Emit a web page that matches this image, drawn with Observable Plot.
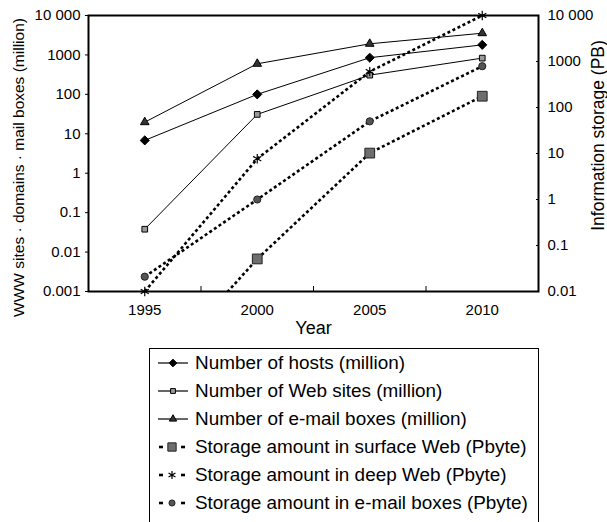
<!DOCTYPE html>
<html>
<head>
<meta charset="utf-8">
<script src="https://cdn.jsdelivr.net/npm/d3@7"></script>
<script src="https://cdn.jsdelivr.net/npm/@observablehq/plot@0.6"></script>
<style>
  body { margin: 0; background: #fff; font-family: "Liberation Sans", Arial, sans-serif; }
  #wrap { position: relative; width: 607px; height: 522px; overflow: hidden; }
  #legend { position: absolute; left: 149px; top: 348px; width: 390px; height: 200px;
            box-sizing: border-box; border: 1px solid #000; background: #fff; padding-left: 8px; }
  .row { display: flex; align-items: center; height: 28px; font-size: 18.9px; color: #000; white-space: nowrap; }
  .row svg { flex: none; margin-right: 7px; }
</style>
</head>
<body>
<div id="wrap">
  <div id="chart"></div>
  <div id="legend"></div>
</div>
<script>
// ---- data ----
const years = [1995, 2000, 2005, 2010];
const hosts = [6.8, 100, 850, 1800];             // million (left axis)
const webSites = [0.038, 31, 307, 830];          // million (left axis)
const mailBoxes = [19.7, 596, 1915, 3556];       // million (left axis)
const storageSurface = [0.0001, 0.051, 10.2, 176]; // PB (right axis)
const storageDeep = [0.01, 7.7, 604, 10000];       // PB (right axis)
const storageMail = [0.021, 1.0, 50, 790];         // PB (right axis)

const seriesNames = [
  "Number of hosts (million)",
  "Number of Web sites (million)",
  "Number of e-mail boxes (million)",
  "Storage amount in surface Web (Pbyte)",
  "Storage amount in deep Web (Pbyte)",
  "Storage amount in e-mail boxes (Pbyte)"
];
const seriesValues = [hosts, webSites, mailBoxes, storageSurface, storageDeep, storageMail];
const seriesAxis = ["left", "left", "left", "right", "right", "right"];

const leftTicks = [0.001, 0.01, 0.1, 1, 10, 100, 1000, 10000];
const leftTickLabels = ["0.001", "0.01", "0.1", "1", "10", "100", "1000", "10 000"];
const rightTicks = [0.01, 0.1, 1, 10, 100, 1000, 10000];
const rightTickLabels = ["0.01", "0.1", "1", "10", "100", "1000", "10 000"];
const xTicks = [1995, 2000, 2005, 2010];
const xMinorTicks = [1997.5, 2002.5, 2007.5];

const xTitle = "Year";
const yLeftTitle = "WWW sites \u00b7 domains \u00b7 mail boxes (million)";
const yRightTitle = "Information storage (PB)";

// ---- styles ----
const styles = [
  {dashed: false, symbol: "diamond2", r: 4.1, fill: "#000", stroke: "#000"},
  {dashed: false, symbol: "square", r: 3.2, fill: "#9a9a9a", stroke: "#000"},
  {dashed: false, symbol: "triangle", r: 3.2, fill: "#333", stroke: "#000"},
  {dashed: true, symbol: "square", r: 5.5, fill: "#6e6e6e", stroke: "#222"},
  {dashed: true, symbol: "asterisk", r: 4.4, fill: "none", stroke: "#000"},
  {dashed: true, symbol: "circle", r: 3.6, fill: "#555", stroke: "#222"}
];

// right axis (0.01..10000 PB, 6 decades) mapped onto left axis (0.001..10000, 7 decades)
const toLeft = v => Math.pow(10, -3 + (Math.log10(v) + 2) * 7 / 6);
const rightTickData = rightTicks.map((t, i) => ({pos: toLeft(t), label: rightTickLabels[i]}));
const leftLabel = new Map(leftTicks.map((t, i) => [t, leftTickLabels[i]]));

const marks = [];
seriesNames.forEach((name, k) => {
  const st = styles[k];
  const data = years.map((yr, i) => ({
    year: yr,
    v: seriesAxis[k] === "right" ? toLeft(seriesValues[k][i]) : seriesValues[k][i]
  }));
  marks.push(Plot.line(data, {
    x: "year", y: "v", stroke: "#000",
    strokeWidth: st.dashed ? 2.6 : 1,
    strokeDasharray: st.dashed ? "3,2.6" : null,
    strokeLinecap: "butt",
    clip: true
  }));
  marks.push(Plot.dot(data.filter(d => d.v >= 0.001 * 0.999), {
    x: "year", y: "v", symbol: st.symbol, r: st.r,
    fill: st.fill, stroke: st.stroke, strokeWidth: st.symbol === "asterisk" ? 1.2 : 1
  }));
});

const blank = () => "";

const chart = Plot.plot({
  width: 607,
  height: 340,
  marginLeft: 88,
  marginRight: 69,
  marginTop: 15,
  marginBottom: 49,
  style: {fontFamily: "'Liberation Sans', Arial, sans-serif", fontSize: "15px", color: "#000", background: "#fff"},
  x: {domain: [1992.5, 2012.5]},
  y: {type: "log", domain: [0.001, 10000]},
  marks: [
    ...marks,
    Plot.axisY(leftTicks, {anchor: "left", tickSize: 3, tickPadding: 5, fontSize: 15,
      tickFormat: d => leftLabel.get(d), label: null}),
    Plot.axisY(rightTickData.map(d => d.pos), {anchor: "right", tickSize: -3, tickFormat: blank, label: null}),
    Plot.text(rightTickData, {y: "pos", text: "label", frameAnchor: "right", dx: 9,
      textAnchor: "start", lineAnchor: "middle", fontSize: 15}),
    Plot.axisX(xTicks, {anchor: "bottom", tickSize: 0, tickPadding: 13, fontSize: 15,
      tickFormat: d => String(d), label: null}),
    Plot.axisX(xMinorTicks, {anchor: "bottom", tickSize: -5, tickFormat: blank, label: null}),
    Plot.frame({stroke: "#000", strokeWidth: 2}),
    Plot.text([xTitle], {text: d => d, frameAnchor: "bottom", dy: 37, fontSize: 18, lineAnchor: "middle"}),
    Plot.text([yLeftTitle], {text: d => d, frameAnchor: "left", rotate: -90, dx: -69, dy: 14,
      fontSize: 15.5, lineAnchor: "middle", textAnchor: "middle"}),
    Plot.text([yRightTitle], {text: d => d, frameAnchor: "right", rotate: -90, dx: 60, dy: -18,
      fontSize: 17.5, lineAnchor: "middle", textAnchor: "middle"})
  ]
});
document.getElementById("chart").append(chart);

// ---- legend ----
const symbolTypes = {diamond2: d3.symbolDiamond2, square: d3.symbolSquare, triangle: d3.symbolTriangle,
                     asterisk: d3.symbolAsterisk, circle: d3.symbolCircle};
const legend = d3.select("#legend");
seriesNames.forEach((name, k) => {
  const st = styles[k];
  const row = legend.append("div").attr("class", "row");
  const svg = row.append("svg").attr("width", 30).attr("height", 20);
  if (st.dashed) {
    svg.append("line").attr("x1", 1).attr("x2", 5).attr("y1", 10).attr("y2", 10)
      .attr("stroke", "#000").attr("stroke-width", 2.6);
    svg.append("line").attr("x1", 23).attr("x2", 27).attr("y1", 10).attr("y2", 10)
      .attr("stroke", "#000").attr("stroke-width", 2.6);
  } else {
    svg.append("line").attr("x1", 0).attr("x2", 30).attr("y1", 10).attr("y2", 10)
      .attr("stroke", "#000").attr("stroke-width", 1.2);
  }
  const r = st.r * 0.85;
  svg.append("path")
    .attr("transform", st.dashed ? "translate(14,10)" : "translate(15,10)")
    .attr("d", d3.symbol(symbolTypes[st.symbol], Math.PI * r * r)())
    .attr("fill", st.fill).attr("stroke", st.stroke)
    .attr("stroke-width", st.symbol === "asterisk" ? 1.2 : 1);
  row.append("span").text(name);
});
</script>
</body>
</html>
